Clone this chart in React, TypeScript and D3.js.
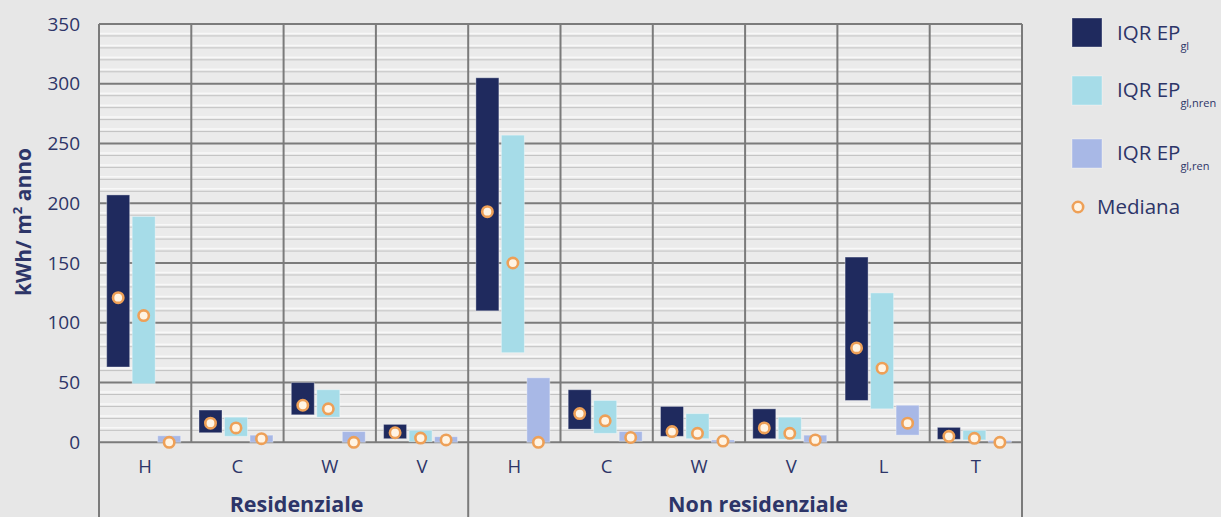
import React from "react";
import * as d3 from "d3";

const categories = ["H", "C", "W", "V", "H", "C", "W", "V", "L", "T"];
const groups = ["Residenziale", "Non residenziale"];
const groupSizes = [4, 6];
const yTicks = [0, 50, 100, 150, 200, 250, 300, 350];

// IQR EP_gl: [q1, q3], median
const glLow = [63, 8, 23, 3, 110, 11, 5, 3, 35, 2.5];
const glHigh = [207, 27, 50, 15, 305, 44, 30, 28, 155, 12.5];
const glMed = [121, 16, 31, 8, 193, 24, 9, 12, 79, 5];

const nrenLow = [49, 5, 21, 0.5, 75, 7.5, 3, 2.5, 28, 2];
const nrenHigh = [189, 21, 44, 10, 257, 35, 24, 21, 125, 10];
const nrenMed = [106, 12, 28, 3.5, 150, 18, 7.5, 7.5, 62, 3.3];

const renLow = [0, 0, 0, 0, 0, 1, 0, 0, 6, 0];
const renHigh = [5.5, 6, 9, 4.7, 54, 9, 2, 6, 31, 1.5];
const renMed = [0, 3, 0, 2, 0, 4, 1, 2, 16, 0];

const seriesNames = ["gl", "gl,nren", "gl,ren"];
const seriesColors = ["#1f2a5e", "#a6dce8", "#a8b8e6"];

const W = 1221;
const H = 517;
const plotLeft = 99;
const plotRight = 1022;
const plotTop = 24;
const plotBottom = 442.3;
const textColor = "#2d3568";
const font = "'Open Sans', 'Noto Sans', sans-serif";

export default function App() {
  const idx = categories.map((_, i) => i);
  const x = d3.scaleBand<number>().domain(idx).range([plotLeft, plotRight]).padding(0);
  const xs = d3
    .scaleBand<number>()
    .domain([0, 1, 2])
    .range([0, x.bandwidth()])
    .paddingInner(0.098)
    .paddingOuter(0.359)
    .align(0.42);
  const y = d3.scaleLinear().domain([0, 350]).range([plotBottom, plotTop]);

  const series = [
    { low: glLow, high: glHigh, med: glMed },
    { low: nrenLow, high: nrenHigh, med: nrenMed },
    { low: renLow, high: renHigh, med: renMed },
  ];

  const minorTicks = d3.range(0, 350, 10).filter((v) => v % 50 !== 0);

  const groupStarts: number[] = [];
  let acc = 0;
  groupSizes.forEach((s) => {
    groupStarts.push(acc);
    acc += s;
  });

  const legendItems = [
    { y: 18, sub: seriesNames[0], color: seriesColors[0], ty: 40 },
    { y: 76, sub: seriesNames[1], color: seriesColors[1], ty: 97 },
    { y: 139, sub: seriesNames[2], color: seriesColors[2], ty: 160 },
  ];

  return (
    <div style={{ position: "absolute", left: 0, top: 0 }}>
      <svg width={W} height={H} style={{ display: "block", fontFamily: font }}>
        <rect x={0} y={0} width={W} height={H} fill="#e7e7e7" />
        <rect
          x={plotLeft}
          y={plotTop}
          width={plotRight - plotLeft}
          height={plotBottom - plotTop}
          fill="#ebebeb"
        />
        {minorTicks.map((v) => (
          <g key={"m" + v}>
            <line x1={plotLeft} x2={plotRight} y1={y(v) - 2.5} y2={y(v) - 2.5} stroke="#f8f8f8" strokeWidth={1.5} />
            <line x1={plotLeft} x2={plotRight} y1={y(v)} y2={y(v)} stroke="#c2c2c2" strokeWidth={1} />
          </g>
        ))}
        {yTicks.map((v) => (
          <line key={"M" + v} x1={plotLeft} x2={plotRight} y1={y(v)} y2={y(v)} stroke="#7b7b7b" strokeWidth={2} />
        ))}
        {idx.map((i) => (
          <line
            key={"v" + i}
            x1={x(i)!}
            x2={x(i)!}
            y1={plotTop}
            y2={groupStarts.includes(i) ? H : plotBottom}
            stroke="#7b7b7b"
            strokeWidth={2}
          />
        ))}
        <line x1={plotRight} x2={plotRight} y1={plotTop} y2={H} stroke="#7b7b7b" strokeWidth={2} />

        {series.map((s, si) =>
          idx.map((i) => {
            const y0 = y(s.low[i]);
            const y1 = y(s.high[i]);
            return (
              <rect
                key={`b${si}-${i}`}
                x={x(i)! + xs(si)!}
                y={y1}
                width={xs.bandwidth()}
                height={Math.max(1.5, y0 - y1)}
                fill={seriesColors[si]}
                stroke="rgba(255,255,255,0.35)"
                strokeWidth={1}
              />
            );
          })
        )}
        {series.map((s, si) =>
          idx.map((i) => (
            <circle
              key={`m${si}-${i}`}
              cx={x(i)! + xs(si)! + xs.bandwidth() / 2}
              cy={y(s.med[i])}
              r={5.2}
              fill="#fff4e4"
              stroke="#eea057"
              strokeWidth={2.6}
            />
          ))
        )}

        {yTicks.map((v) => (
          <text
            key={"t" + v}
            x={80}
            y={y(v)}
            dy="0.35em"
            textAnchor="end"
            fontSize={19}
            fill={textColor}
          >
            {v}
          </text>
        ))}
        <text
          transform={`translate(31,${222}) rotate(-90)`}
          textAnchor="middle"
          fontSize={21}
          fontWeight="bold"
          fill={textColor}
        >
          kWh/ m
          <tspan dy={-9} fontSize={13}>2</tspan>
          <tspan dy={9}> anno</tspan>
        </text>

        {idx.map((i) => (
          <text
            key={"c" + i}
            x={x(i)! + x.bandwidth() / 2}
            y={473}
            textAnchor="middle"
            fontSize={18.5}
            fill={textColor}
          >
            {categories[i]}
          </text>
        ))}
        {groups.map((g, gi) => {
          const start = x(groupStarts[gi])!;
          const end = start + groupSizes[gi] * x.bandwidth();
          return (
            <text
              key={"g" + gi}
              x={(start + end) / 2 + 13}
              y={512}
              textAnchor="middle"
              fontSize={21.5}
              fontWeight="bold"
              fill={textColor}
            >
              {g}
            </text>
          );
        })}

        {legendItems.map((it, k) => (
          <g key={"l" + k}>
            <rect x={1072} y={it.y} width={30} height={29} fill={it.color} stroke="rgba(255,255,255,0.35)" />
            <text x={1117} y={it.ty} fontSize={20.5} fill={textColor}>
              IQR EP
              <tspan dy={10} fontSize={11}>{it.sub}</tspan>
            </text>
          </g>
        ))}
        <circle cx={1078} cy={207} r={5.2} fill="#fff4e4" stroke="#eea057" strokeWidth={2.6} />
        <text x={1097} y={214} fontSize={20.5} fill={textColor}>
          Mediana
        </text>
      </svg>
    </div>
  );
}
